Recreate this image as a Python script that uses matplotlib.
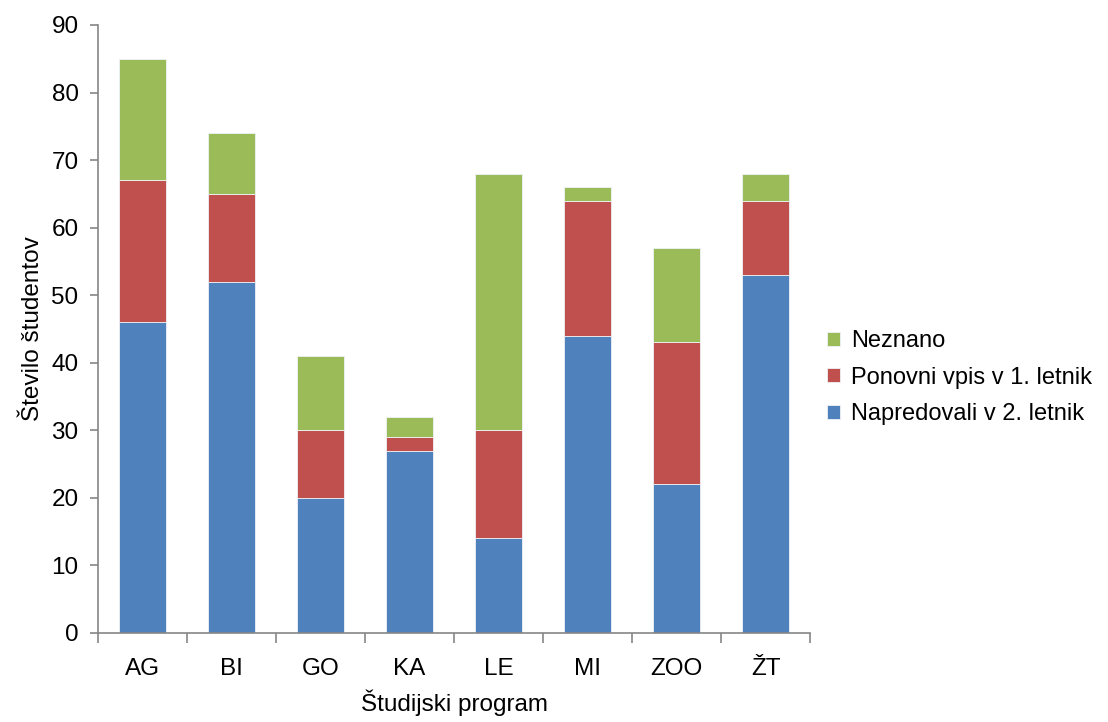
import matplotlib
matplotlib.use("Agg")
import matplotlib.pyplot as plt
import numpy as np

plt.rcParams['font.family'] = ['Liberation Sans', 'DejaVu Sans']

programs = ["AG", "BI", "GO", "KA", "LE", "MI", "ZOO", "ŽT"]
napredovali = [46, 52, 20, 27, 14, 44, 22, 53]
ponovni_vpis = [21, 13, 10, 2, 16, 20, 21, 11]
neznano = [18, 9, 11, 3, 38, 2, 14, 4]

series_names = ["Napredovali v 2. letnik", "Ponovni vpis v 1. letnik", "Neznano"]
colors = ["#4F81BD", "#C0504D", "#9BBB59"]
y_ticks = [0, 10, 20, 30, 40, 50, 60, 70, 80, 90]

FS = 17.5

fig = plt.figure(figsize=(11.08, 7.22), dpi=100)
ax = fig.add_axes([0.0884, 0.1233, 0.6427, 0.8421])

x = np.arange(len(programs))
bottom = np.zeros(len(programs))
handles = []
for name, vals, col in zip(series_names, [napredovali, ponovni_vpis, neznano], colors):
    b = ax.bar(x, vals, width=0.53, bottom=bottom, color=col, label=name,
               edgecolor="#EEF2F7", linewidth=0.6)
    handles.append(b)
    bottom += np.array(vals)

ax.set_xlim(-0.5, len(programs) - 0.5)
ax.set_ylim(0, 90)
ax.set_yticks(y_ticks)
ax.set_xticks(x)
ax.set_xticklabels(programs)
ax.set_xticks(np.arange(len(programs) + 1) - 0.5, minor=True)

for s in ["top", "right"]:
    ax.spines[s].set_visible(False)
for s in ["left", "bottom"]:
    ax.spines[s].set_color("#868686")
    ax.spines[s].set_linewidth(1.2)

ax.tick_params(axis="y", direction="out", length=6, color="#868686", width=1.2,
               labelsize=FS, pad=8)
ax.tick_params(axis="x", which="major", length=0, labelsize=FS, pad=18)
ax.tick_params(axis="x", which="minor", direction="out", length=7, color="#868686", width=1.2)

ax.set_ylabel("Število študentov", fontsize=FS, labelpad=5)
ax.set_xlabel("Študijski program", fontsize=FS, labelpad=7)

leg = ax.legend(handles[::-1], series_names[::-1], loc="center left",
                bbox_to_anchor=(1.0, 0.42), frameon=False, fontsize=17,
                handlelength=0.55, handleheight=0.55, handletextpad=0.5,
                labelspacing=0.62, borderaxespad=0.3)

fig.savefig("out.png", dpi=100, facecolor="white")
